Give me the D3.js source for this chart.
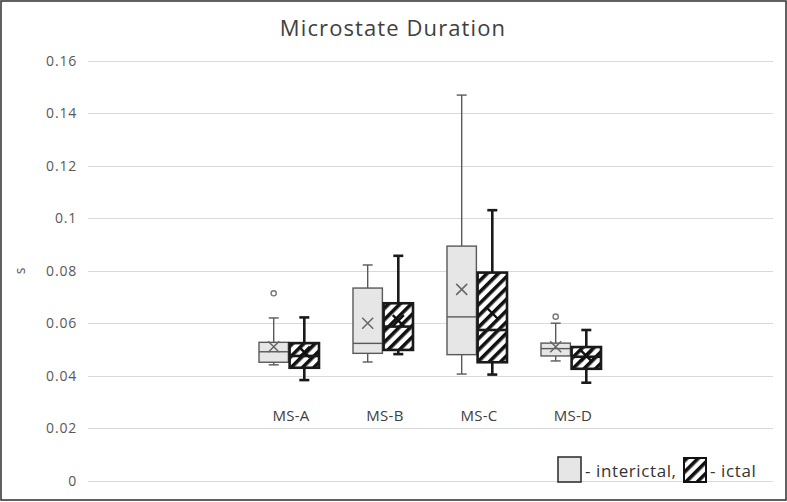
<!DOCTYPE html>
<html><head><meta charset="utf-8">
<script src="https://cdn.jsdelivr.net/npm/d3@7"></script>
<style>body{margin:0;background:#fff}svg{display:block}</style>
</head><body>
<svg id="chart" width="787" height="502"></svg>
<script>
const categories = ["MS-A", "MS-B", "MS-C", "MS-D"];
const seriesNames = ["interictal", "ictal"];
// [min whisker, q1, median, q3, max whisker]
const interictalBox = [
  [0.0441, 0.0451, 0.0491, 0.0527, 0.0620],
  [0.0452, 0.0485, 0.0523, 0.0734, 0.0822],
  [0.0406, 0.0480, 0.0624, 0.0894, 0.1470],
  [0.0456, 0.0475, 0.0503, 0.0524, 0.0600]
];
const interictalMean = [0.0510, 0.0600, 0.0729, 0.0510];
const interictalOutliers = [[0.0714], [], [], [0.0625]];
const ictalBox = [
  [0.0383, 0.0430, 0.0475, 0.0524, 0.0622],
  [0.0482, 0.0498, 0.0587, 0.0676, 0.0857],
  [0.0404, 0.0451, 0.0574, 0.0793, 0.1031],
  [0.0373, 0.0426, 0.0472, 0.0509, 0.0574]
];
const ictalMean = [0.0490, 0.0610, 0.0638, 0.0475];
const ictalOutliers = [[], [], [], []];
const yTicks = [0, 0.02, 0.04, 0.06, 0.08, 0.1, 0.12, 0.14, 0.16];
const titleText = "Microstate Duration";
const yLabel = "s";

const svg = d3.select("#chart");
const W = 787, H = 502;
const font = "'Open Sans', sans-serif";

// frame
svg.append("rect").attr("x", 1).attr("y", 1).attr("width", W - 2).attr("height", H - 3)
  .attr("fill", "#fff").attr("stroke", "#3a3a3a").attr("stroke-width", 1.6);

const defs = svg.append("defs");
const pat = defs.append("pattern").attr("id", "hatch").attr("patternUnits", "userSpaceOnUse")
  .attr("width", 8).attr("height", 8).attr("patternTransform", "rotate(45)");
pat.append("rect").attr("width", 8).attr("height", 8).attr("fill", "#fff");
pat.append("rect").attr("x", 0).attr("y", 0).attr("width", 3.6).attr("height", 8).attr("fill", "#111");

const plotL = 88, plotR = 773;
const y = d3.scaleLinear().domain([0, 0.16]).range([480.5, 61]);
const x = d3.scaleBand().domain(categories).range([242, 618]).paddingInner(0).paddingOuter(0);
const sub = d3.scaleBand().domain(seriesNames).range([-30, 30]).paddingInner(0.04);

// gridlines
svg.append("g").selectAll("line").data(yTicks).join("line")
  .attr("x1", plotL).attr("x2", plotR)
  .attr("y1", d => Math.round(y(d)) + 0.5).attr("y2", d => Math.round(y(d)) + 0.5)
  .attr("stroke", "#d9d9d9").attr("stroke-width", 1);

// y tick labels
svg.append("g").selectAll("text").data(yTicks).join("text")
  .attr("x", 77).attr("y", d => y(d)).attr("dy", "0.36em")
  .attr("text-anchor", "end").attr("font-family", font).attr("font-size", 14)
  .attr("letter-spacing", 0.8)
  .attr("fill", "#595959").text(d => d3.format("")(d));

// y label
svg.append("text").attr("transform", "translate(25,271) rotate(-90)")
  .attr("text-anchor", "middle").attr("font-family", font).attr("font-size", 14)
  .attr("fill", "#595959").text(yLabel);

// title
svg.append("text").attr("x", 393).attr("y", 36).attr("text-anchor", "middle")
  .attr("font-family", font).attr("font-size", 22).attr("letter-spacing", 1.1)
  .attr("fill", "#404040").text(titleText);

// category labels
svg.append("g").selectAll("text").data(categories).join("text")
  .attr("x", d => x(d) + x.bandwidth() / 2 + 2).attr("y", 421)
  .attr("text-anchor", "middle").attr("font-family", font).attr("font-size", 15)
  .attr("letter-spacing", 0.3)
  .attr("fill", "#404040").text(d => d);

const styles = {
  interictal: {fill: "#e6e6e6", stroke: "#595959", sw: 1.4, box: interictalBox, mean: interictalMean, out: interictalOutliers},
  ictal: {fill: "url(#hatch)", stroke: "#1a1a1a", sw: 2.6, box: ictalBox, mean: ictalMean, out: ictalOutliers}
};

seriesNames.forEach(s => {
  const st = styles[s];
  const g = svg.append("g");
  categories.forEach((c, i) => {
    const b = st.box[i];
    const x0 = x(c) + x.bandwidth() / 2 + sub(s);
    const bw = sub.bandwidth();
    const cx = x0 + bw / 2;
    const gg = g.append("g");
    // whiskers
    gg.append("line").attr("x1", cx).attr("x2", cx).attr("y1", y(b[3])).attr("y2", y(b[4]))
      .attr("stroke", st.stroke).attr("stroke-width", st.sw);
    gg.append("line").attr("x1", cx).attr("x2", cx).attr("y1", y(b[1])).attr("y2", y(b[0]))
      .attr("stroke", st.stroke).attr("stroke-width", st.sw);
    [b[0], b[4]].forEach(v => gg.append("line").attr("x1", cx - 5).attr("x2", cx + 5)
      .attr("y1", y(v)).attr("y2", y(v)).attr("stroke", st.stroke).attr("stroke-width", st.sw));
    // box
    gg.append("rect").attr("x", x0).attr("y", y(b[3])).attr("width", bw)
      .attr("height", y(b[1]) - y(b[3])).attr("fill", st.fill)
      .attr("stroke", st.stroke).attr("stroke-width", st.sw);
    // median
    gg.append("line").attr("x1", x0).attr("x2", x0 + bw).attr("y1", y(b[2])).attr("y2", y(b[2]))
      .attr("stroke", st.stroke).attr("stroke-width", st.sw);
    // mean X
    const m = y(st.mean[i]), r = 5.5;
    gg.append("path").attr("d", `M${cx - r},${m - r}L${cx + r},${m + r}M${cx - r},${m + r}L${cx + r},${m - r}`)
      .attr("stroke", s === "ictal" ? "#111" : "#666").attr("stroke-width", s === "ictal" ? 2.4 : 1.5)
      .attr("fill", "none");
    // outliers
    st.out[i].forEach(v => gg.append("circle").attr("cx", cx).attr("cy", y(v)).attr("r", 2.6)
      .attr("fill", "#fff").attr("stroke", "#777").attr("stroke-width", 1.4));
  });
});

// legend
const lg = svg.append("g");
lg.append("rect").attr("x", 558).attr("y", 457).attr("width", 23).attr("height", 25)
  .attr("fill", "#e6e6e6").attr("stroke", "#333").attr("stroke-width", 1.6);
lg.append("text").attr("x", 585).attr("y", 477).attr("font-family", font).attr("font-size", 17)
  .attr("letter-spacing", 0.6).attr("fill", "#333").text("- interictal,");
lg.append("rect").attr("x", 684).attr("y", 458).attr("width", 22).attr("height", 24)
  .attr("fill", "url(#hatch)").attr("stroke", "#111").attr("stroke-width", 2);
lg.append("text").attr("x", 710).attr("y", 477).attr("font-family", font).attr("font-size", 17)
  .attr("letter-spacing", 0.6).attr("fill", "#333").text("- ictal");
</script>
</body></html>
